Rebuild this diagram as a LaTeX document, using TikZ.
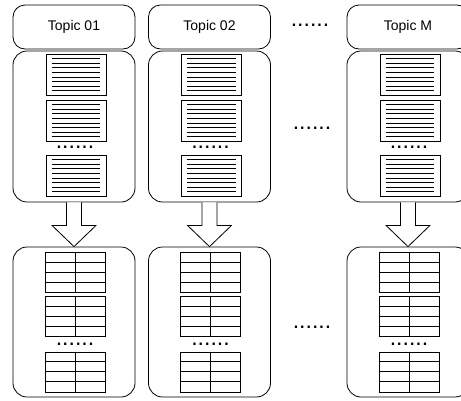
\documentclass[tikz,border=0pt]{standalone}
\usepackage{fontspec}
\setmainfont{Liberation Sans}
\usetikzlibrary{calc}
\begin{document}
\begin{tikzpicture}[x=1pt,y=-1pt,
  topicbox/.style={draw=black, line width=0.8pt, rounded corners=12pt, minimum width=122pt, minimum height=44pt, inner sep=0pt, font=\fontsize{14}{14}\selectfont},
  groupbox/.style={draw=black, line width=0.8pt, rounded corners=14pt, minimum width=122pt, inner sep=0pt},
  docbox/.style={draw=black, line width=0.8pt, minimum width=60pt, minimum height=41pt, inner sep=0pt, fill=white},
  tablebox/.style={draw=black, line width=0.8pt, minimum width=60pt, minimum height=40pt, inner sep=0pt, fill=white},
  docline/.style={draw=black, line width=0.7pt},
  tableline/.style={draw=black, line width=0.8pt},
  dotsnode/.style={font=\fontsize{23}{23}\selectfont, inner sep=0pt, anchor=base},
  blockarrow/.style={draw=black, fill=white, line width=0.8pt, line join=miter}
]
\clip (0,0) rectangle (461,400);
\useasboundingbox (0,0) rectangle (461,400);
\foreach \c/\n/\lab in {74/1/Topic 01, 209.5/2/Topic 02, 408/M/Topic M}{
  \node[topicbox] (t\n) at (\c,27) {\lab};
  \node[groupbox, minimum height=151pt] (g\n) at (\c,126.5) {};
  \node[groupbox, minimum height=150pt] (r\n) at (\c,322) {};
  % documents
  \foreach \k/\yy in {a/75, b/121, c/176}{
    \node[docbox] (d\n\k) at (\c+2,\yy) {};
    \foreach \i in {0,...,7}{
      \draw[docline] ($(d\n\k.north west)+(6,4.6+4.57*\i)$) -- ($(d\n\k.north east)+(-6,4.6+4.57*\i)$);
    }
  }
  \node[dotsnode] (dd\n) at (\c+1,148) {......};
  % tables
  \foreach \k/\yy in {a/272.7, b/316.5, c/372}{
    \node[tablebox] (s\n\k) at (\c+1,\yy) {};
    \foreach \i in {10,20,30}{
      \draw[tableline] ($(s\n\k.north west)+(0,\i)$) -- ($(s\n\k.north east)+(0,\i)$);
    }
    \draw[tableline] (s\n\k.north) -- (s\n\k.south);
  }
  \node[dotsnode] (ds\n) at (\c+1,345) {......};
  % block arrow
  \draw[blockarrow] ($(g\n.south)+(-7.5,0)$) -- ($(g\n.south)+(-7.5,23)$) -- ($(g\n.south)+(-22,23)$) -- (r\n.north) -- ($(g\n.south)+(22,23)$) -- ($(g\n.south)+(7.5,23)$) -- ($(g\n.south)+(7.5,0)$);
}
\node[dotsnode] (dtop) at (310,26) {......};
\node[dotsnode] (dmid) at (312,129) {......};
\node[dotsnode] (dbot) at (312,328) {......};
\end{tikzpicture}
\end{document}
